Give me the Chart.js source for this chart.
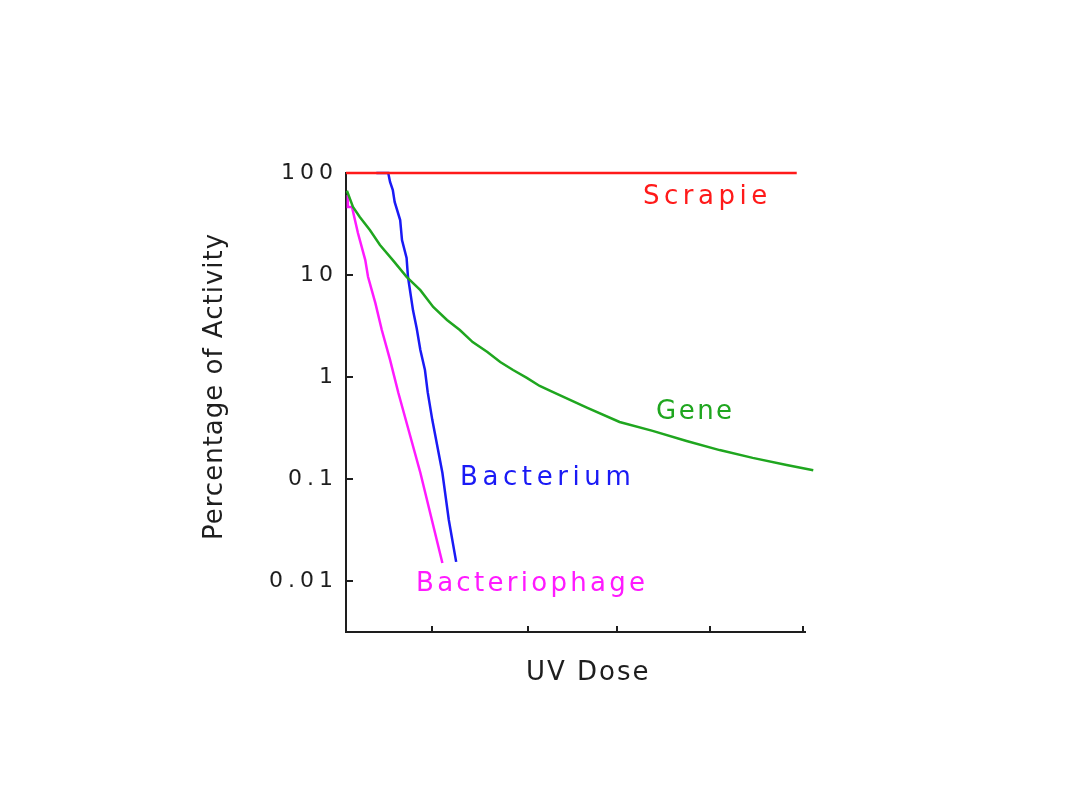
<!DOCTYPE html>
<html>
<head>
<meta charset="utf-8">
<script src="https://cdn.jsdelivr.net/npm/chart.js@4.4.1/dist/chart.umd.min.js"></script>
<style>
  html, body { margin: 0; padding: 0; background: #fff; }
  #wrap { width: 1080px; height: 810px; }
</style>
</head>
<body>
<div id="wrap"><canvas id="chart" width="1080" height="810"></canvas></div>
<script>
// UV dose (arbitrary units, no labels on the original) vs % of activity left
const xTickValues = [0.94, 1.98, 2.95, 3.97, 4.98];
const yTickValues = [0.01, 0.1, 1, 10, 100];

const scrapieDose = [0, 4.91];
const scrapieActivity = [100, 100];

const geneDose = [0.01, 0.076, 0.15, 0.26, 0.37, 0.51, 0.66, 0.81, 0.95, 1.10, 1.24, 1.38, 1.54, 1.68, 1.82, 1.97, 2.11, 2.25, 2.63, 2.98, 3.34, 3.71, 4.07, 4.43, 4.80, 5.09];
const geneActivity = [67, 46.4, 37, 27.6, 19.7, 14.0, 9.6, 7.1, 4.86, 3.62, 2.89, 2.20, 1.76, 1.40, 1.17, 0.98, 0.817, 0.713, 0.497, 0.362, 0.296, 0.236, 0.192, 0.161, 0.137, 0.122];

const bacteriumDose = [0.33, 0.46, 0.48, 0.51, 0.53, 0.59, 0.61, 0.66, 0.675, 0.73, 0.77, 0.81, 0.86, 0.89, 0.94, 1.05, 1.12, 1.20];
const bacteriumActivity = [100, 100, 81.6, 68, 52, 34.6, 22, 14.7, 9.6, 4.5, 3.0, 1.84, 1.17, 0.71, 0.38, 0.115, 0.0396, 0.0154];

const phageDose = [0.02, 0.02, 0.065, 0.13, 0.21, 0.24, 0.32, 0.39, 0.48, 0.57, 0.81, 1.05];
const phageActivity = [60.8, 46.4, 46.4, 25.8, 14.0, 9.6, 5.3, 2.89, 1.47, 0.70, 0.115, 0.015];

const FONT = '"DejaVu Sans", sans-serif';
const INK = '#1e1e1e';

function toPoints(xs, ys) {
  return xs.map((x, i) => ({ x: x, y: ys[i] }));
}

function series(label, xs, ys, color) {
  return {
    label: label,
    data: toPoints(xs, ys),
    borderColor: color,
    backgroundColor: color,
    borderWidth: 2.5,
    pointRadius: 0,
    tension: 0,
    clip: false
  };
}

// tick marks on the original point into the plot, so draw them by hand
const innerTicks = {
  id: 'innerTicks',
  beforeDatasetsDraw(chart) {
    const { ctx, chartArea, scales } = chart;
    ctx.save();
    ctx.strokeStyle = INK;
    ctx.lineWidth = 2;
    ctx.beginPath();
    yTickValues.forEach(v => {
      const py = Math.round(scales.y.getPixelForValue(v));
      ctx.moveTo(chartArea.left, py);
      ctx.lineTo(chartArea.left + 7, py);
    });
    xTickValues.forEach(v => {
      const px = Math.round(scales.x.getPixelForValue(v));
      ctx.moveTo(px, chartArea.bottom);
      ctx.lineTo(px, chartArea.bottom - 6);
    });
    ctx.stroke();
    ctx.restore();
  }
};

// wide bitmap-style spacing for the tick numbers
const spacing = {
  id: 'spacing',
  beforeDraw(chart) { chart.ctx.letterSpacing = '5px'; },
  afterDraw(chart) { chart.ctx.letterSpacing = '0px'; }
};

// axis titles and the names written next to each curve
const texts = {
  id: 'texts',
  afterDraw(chart) {
    const ctx = chart.ctx;
    const names = [
      { text: 'Scrapie', x: 643, y: 204, color: '#ff1a1a', gap: 4.5 },
      { text: 'Gene', x: 656, y: 419, color: '#1fa61f', gap: 2.5 },
      { text: 'Bacterium', x: 460, y: 485, color: '#1a1af5', gap: 4.6 },
      { text: 'Bacteriophage', x: 416, y: 591, color: '#ff1aff', gap: 3.3 }
    ];
    ctx.save();
    ctx.font = '26px ' + FONT;
    ctx.textAlign = 'left';
    ctx.textBaseline = 'alphabetic';
    names.forEach(n => {
      ctx.letterSpacing = n.gap + 'px';
      ctx.fillStyle = n.color;
      ctx.fillText(n.text, n.x, n.y);
    });

    ctx.fillStyle = INK;
    ctx.letterSpacing = '2px';
    ctx.fillText('UV Dose', 526, 680);

    ctx.letterSpacing = '1px';
    ctx.translate(222, 540);
    ctx.rotate(-Math.PI / 2);
    ctx.fillText('Percentage of Activity', 0, 0);
    ctx.restore();
  }
};

const ctx = document.getElementById('chart').getContext('2d');
new Chart(ctx, {
  type: 'line',
  data: {
    datasets: [
      series('Scrapie', scrapieDose, scrapieActivity, '#ff1a1a'),
      series('Gene', geneDose, geneActivity, '#1fa61f'),
      series('Bacterium', bacteriumDose, bacteriumActivity, '#1a1af5'),
      series('Bacteriophage', phageDose, phageActivity, '#ff1aff')
    ]
  },
  options: {
    responsive: false,
    animation: false,
    layout: { padding: { left: 190, top: 173, right: 275, bottom: 126 } },
    plugins: {
      legend: { display: false },
      tooltip: { enabled: false }
    },
    scales: {
      x: {
        type: 'linear',
        min: 0,
        max: 5,
        afterBuildTicks: s => { s.ticks = xTickValues.map(v => ({ value: v })); },
        afterFit: s => { s.height = 52; },
        grid: { display: false, drawTicks: false },
        border: { color: INK, width: 2 },
        ticks: { display: false }
      },
      y: {
        type: 'logarithmic',
        min: 0.00316,
        max: 100,
        afterBuildTicks: s => { s.ticks = yTickValues.map(v => ({ value: v })); },
        afterFit: s => { s.width = 156; },
        grid: { display: false, drawTicks: false },
        border: { color: INK, width: 2 },
        ticks: {
          color: INK,
          padding: 8,
          font: { family: FONT, size: 22 },
          callback: v => String(v)
        }
      }
    }
  },
  plugins: [innerTicks, spacing, texts]
});
</script>
</body>
</html>
